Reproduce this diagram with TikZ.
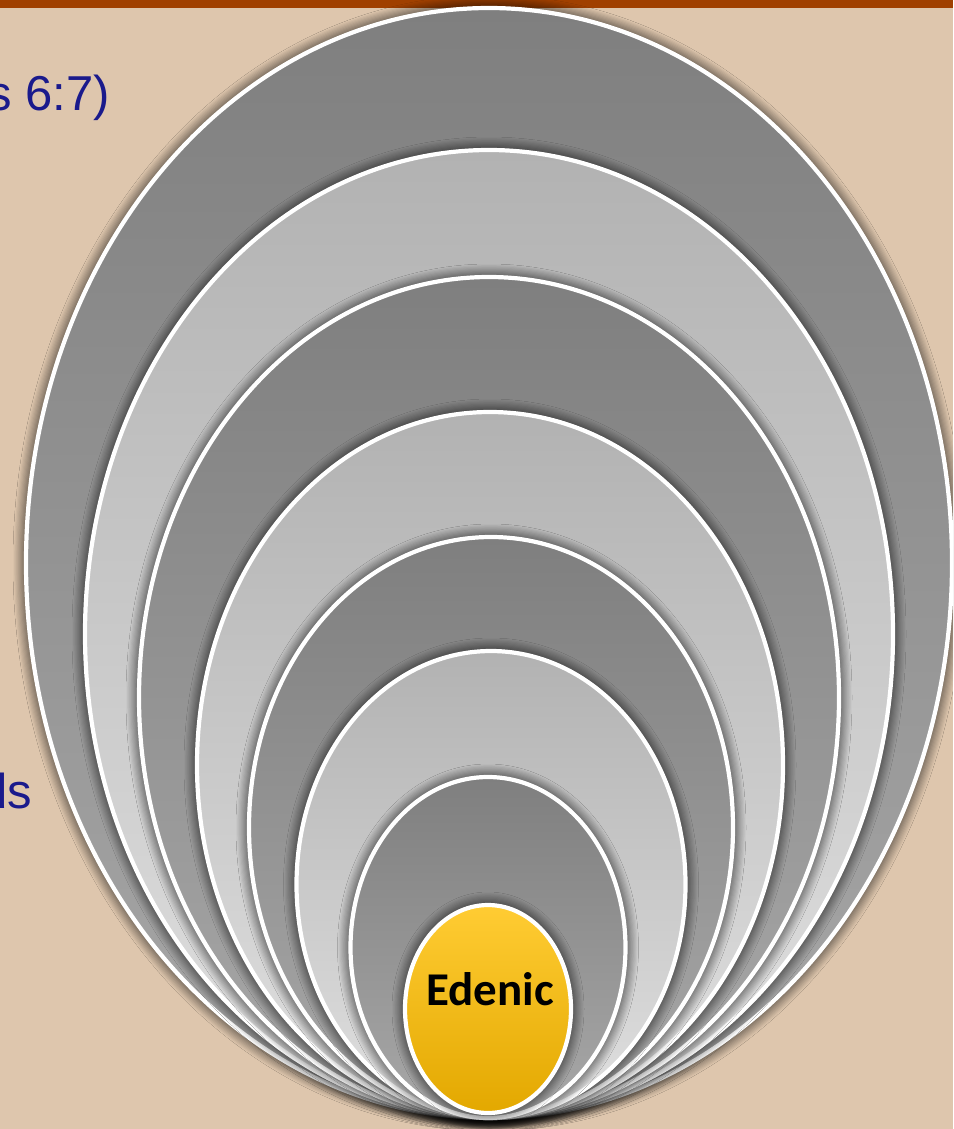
\documentclass[tikz,border=0pt]{standalone}
\usepackage{fontspec}
\setmainfont{Liberation Sans}
\newfontfamily\calfont{Carlito}
\usetikzlibrary{shapes.geometric,shadows.blur}
\definecolor{bgtan}{HTML}{DEC6AD}
\definecolor{barbrown}{HTML}{A04000}
\definecolor{txtblue}{HTML}{1A1A8C}
\definecolor{darktop}{HTML}{7F7F7F}
\definecolor{darkbot}{HTML}{A8A8A8}
\definecolor{lighttop}{HTML}{B2B2B2}
\definecolor{lightbot}{HTML}{E0E0E0}
\definecolor{goldtop}{HTML}{FFCC33}
\definecolor{goldbot}{HTML}{E3A800}
\tikzset{
  ring/.style={ellipse, draw=white, line width=4.2pt, inner sep=0pt,
    blur shadow={shadow xshift=0pt, shadow yshift=0pt, shadow blur radius=13pt,
      shadow blur steps=12, shadow opacity=100, shadow scale=1.0}},
  darkring/.style={ring, top color=darktop, bottom color=darkbot},
  lightring/.style={ring, top color=lighttop, bottom color=lightbot},
  goldring/.style={ring, top color=goldtop, bottom color=goldbot},
  sidetext/.style={text=txtblue, font=\fontsize{49}{58}\selectfont, inner sep=0pt, anchor=base east}
}
\begin{document}
\begin{tikzpicture}[x=1pt,y=-1pt]
\useasboundingbox (0,0) rectangle (953,1129);
\clip (0,0) rectangle (953,1129);
\fill[bgtan] (0,0) rectangle (953,1129);
\fill[barbrown] (0,0) rectangle (953,8);
\node[sidetext] (t1) at (110,111) {s 6:7)};
\node[sidetext] (t2) at (32,808) {ds};
\node[darkring, minimum width=926pt, minimum height=1110pt] (e1) at (489,563) {};
\node[lightring, minimum width=808pt, minimum height=968pt] (e2) at (489,634) {};
\node[darkring, minimum width=700pt, minimum height=841pt] (e3) at (489,697.5) {};
\node[lightring, minimum width=586pt, minimum height=706pt] (e4) at (490,765) {};
\node[darkring, minimum width=484pt, minimum height=581pt] (e5) at (491,827.5) {};
\node[lightring, minimum width=389pt, minimum height=467pt] (e6) at (491,884.5) {};
\node[darkring, minimum width=275pt, minimum height=341pt] (e7) at (488,947.5) {};
\node[goldring, minimum width=166pt, minimum height=208pt] (e8) at (488,1009) {};
\node[font=\calfont\bfseries\fontsize{47}{56}\selectfont, inner sep=0pt, anchor=base] (lbl) at (490,1005) {Edenic};
\end{tikzpicture}
\end{document}
